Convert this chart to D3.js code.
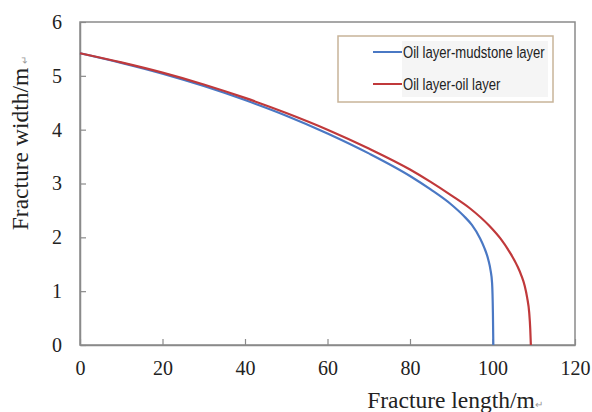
<!DOCTYPE html>
<html>
<head>
<meta charset="utf-8">
<style>
body { margin:0; background:#fff; }
</style>
</head>
<body>
<svg id="chart"></svg>
<script src="https://d3js.org/d3.v7.min.js"></script>
<script>
// values
var mudX = [0, 10, 20, 30, 40, 50, 60, 70, 80, 85, 90, 93, 95, 97, 98, 99, 99.5, 99.9, 100.1, 100.2];
var mudY = [5.42, 5.24, 5.04, 4.81, 4.55, 4.26, 3.93, 3.56, 3.14, 2.89, 2.61, 2.40, 2.23, 1.98, 1.81, 1.58, 1.40, 1.15, 0.6, 0];
var oilX = [0, 10, 20, 30, 40, 50, 60, 70, 80, 85, 90, 94.5, 99.4, 102, 104.2, 106, 107, 107.8, 108.4, 108.9, 109.15, 109.3];
var oilY = [5.42, 5.25, 5.06, 4.84, 4.59, 4.31, 4.00, 3.65, 3.26, 3.03, 2.78, 2.54, 2.20, 1.97, 1.72, 1.47, 1.29, 1.10, 0.88, 0.6, 0.3, 0];
var xTicks = [0, 20, 40, 60, 80, 100, 120];
var yTicks = [0, 1, 2, 3, 4, 5, 6];
var seriesNames = ["Oil layer-mudstone layer", "Oil layer-oil layer"];
var seriesColors = ["#4a78c4", "#c0393b"];

var screen = {width:592, height:412};
var margins = {top:22, left:80, right:17, bottom:67};
var graph = {
    width: screen.width - margins.left - margins.right,
    height: screen.height - margins.top - margins.bottom
};
var serif = "'Liberation Serif','Times New Roman',serif";

var svg = d3.select("#chart")
    .attr("width", screen.width)
    .attr("height", screen.height);

var xScale = d3.scaleLinear().domain([0,120]).range([0, graph.width]);
var yScale = d3.scaleLinear().domain([0,6]).range([graph.height, 0]);

var g = svg.append("g")
    .attr("transform", "translate(" + margins.left + "," + margins.top + ")");

// frame
g.append("rect")
    .attr("width", graph.width)
    .attr("height", graph.height)
    .attr("fill", "none")
    .attr("stroke", "#8a8a8a")
    .attr("stroke-width", 1.5);

var xAxis = d3.axisBottom(xScale).tickValues(xTicks).tickFormat(d3.format("d"))
    .tickSizeInner(-6).tickSizeOuter(0).tickPadding(16);
var yAxis = d3.axisLeft(yScale).tickValues(yTicks).tickFormat(d3.format("d"))
    .tickSizeInner(-6).tickSizeOuter(0).tickPadding(18);

var gx = g.append("g")
    .attr("transform", "translate(0," + graph.height + ")")
    .call(xAxis);
var gy = g.append("g").call(yAxis);

[gx, gy].forEach(function(a) {
    a.attr("font-family", serif).attr("font-size", 20);
    a.selectAll(".tick text").attr("fill", "#222");
    a.select(".domain").attr("stroke", "#8a8a8a").attr("stroke-width", 1.5);
    a.selectAll(".tick line").attr("stroke", "#8a8a8a").attr("stroke-width", 1.2);
});

var line = d3.line()
    .x(function(d) { return xScale(d[0]); })
    .y(function(d) { return yScale(d[1]); })
    .curve(d3.curveMonotoneX);

var series = [d3.zip(mudX, mudY), d3.zip(oilX, oilY)];

g.selectAll(".series")
    .data(series)
    .enter()
    .append("path")
    .attr("class", "series")
    .attr("d", line)
    .attr("fill", "none")
    .attr("stroke", function(d, i) { return seriesColors[i]; })
    .attr("stroke-width", 2.2);

// legend
var legend = svg.append("g").attr("transform", "translate(338,36)");
legend.append("rect")
    .attr("width", 215)
    .attr("height", 66)
    .attr("fill", "#fff")
    .attr("stroke", "#c8b499")
    .attr("stroke-width", 1.5);
legend.append("rect")
    .attr("x", 64)
    .attr("y", 5)
    .attr("width", 146)
    .attr("height", 56)
    .attr("fill", "#f5f5f5");

var items = legend.selectAll(".item")
    .data(seriesNames)
    .enter()
    .append("g")
    .attr("transform", function(d, i) { return "translate(0," + (16 + i * 32) + ")"; });
items.append("line")
    .attr("x1", 35).attr("x2", 64)
    .attr("stroke", function(d, i) { return seriesColors[i]; })
    .attr("stroke-width", 2);
items.append("text")
    .attr("transform", "translate(65,6) scale(0.77,1)")
    .attr("font-family", "'Liberation Sans',Arial,sans-serif")
    .attr("font-size", 17)
    .attr("fill", "#222")
    .text(function(d) { return d; });

// axis titles
var xt = svg.append("text")
    .attr("x", 455)
    .attr("y", 408)
    .attr("text-anchor", "middle")
    .attr("font-family", serif)
    .attr("font-size", 23.5)
    .attr("fill", "#222")
    .text("Fracture length/m");
xt.append("tspan").attr("font-size", 10).attr("fill", "#999").text("\u21b5");

var yt = svg.append("text")
    .attr("transform", "translate(28,143) rotate(-90)")
    .attr("text-anchor", "middle")
    .attr("font-family", serif)
    .attr("font-size", 23.5)
    .attr("fill", "#222")
    .text("Fracture width/m");
yt.append("tspan").attr("dx", 4).attr("font-size", 10).attr("fill", "#999").text("\u21b5");
</script>
</body>
</html>
